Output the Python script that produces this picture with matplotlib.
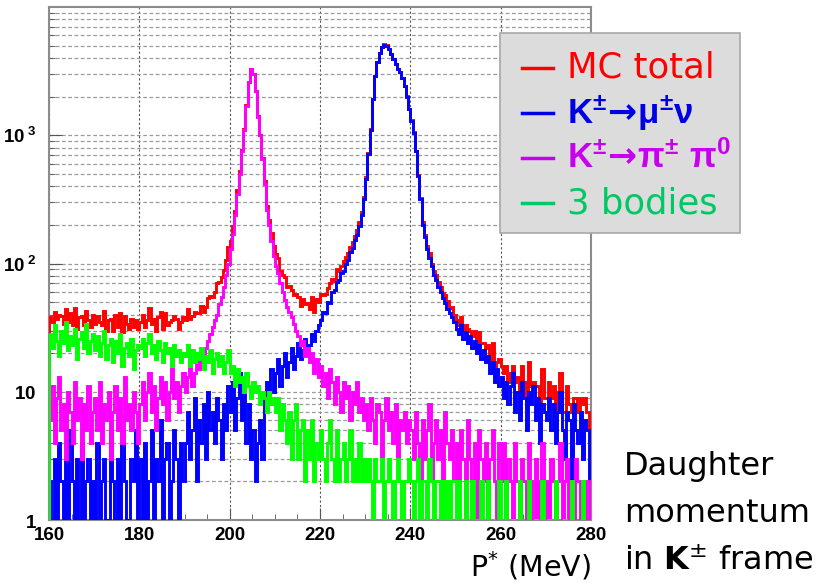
"""
Daughter momentum spectrum in the kaon rest frame (MC), log scale.
"""

import numpy as np
import matplotlib
matplotlib.use("Agg")
import matplotlib.pyplot as plt
from matplotlib.lines import Line2D
from matplotlib.patches import Rectangle
from matplotlib.ticker import MultipleLocator, LogLocator, NullFormatter

# Binning of P* (MeV)
P_MIN, P_MAX, BIN_WIDTH = 160, 280, 0.5

# Counts per 0.5 MeV bin, one row = 10 MeV
mc_total = [
    38, 35, 42, 37, 40, 39, 34, 44, 35, 41, 33, 45, 31, 38, 39, 33, 43, 36, 32, 40,
    34, 39, 35, 33, 43, 30, 36, 37, 30, 40, 32, 41, 29, 39, 34, 31, 37, 32, 36, 31,
    35, 40, 32, 36, 45, 34, 37, 30, 38, 42, 31, 41, 33, 35, 36, 39, 37, 31, 35, 38,
    36, 44, 37, 39, 42, 41, 41, 47, 42, 46, 54, 56, 55, 60, 71, 72, 79, 89, 106, 134,
    150, 196, 256, 375, 525, 770, 1120, 1720, 2620, 3310, 3020, 2212, 1415, 1012, 665, 438, 279, 219, 174, 137,
    118, 110, 88, 82, 79, 65, 67, 62, 57, 58, 55, 47, 53, 48, 49, 44, 55, 42, 53, 50,
    58, 57, 58, 64, 71, 76, 73, 91, 87, 96, 105, 112, 121, 134, 146, 164, 183, 209, 250, 330,
    470, 730, 1110, 1910, 2910, 3710, 4410, 4910, 5110, 5010, 4710, 4310, 3910, 3610, 3310, 3110, 2810, 2410, 2010, 1610,
    1307, 1053, 759, 487, 323, 209, 166, 136, 121, 100, 87, 82, 72, 66, 59, 57, 51, 45, 46, 40,
    36, 33, 38, 31, 33, 31, 30, 27, 30, 23, 29, 24, 24, 22, 23, 18, 24, 15, 17, 18,
    16, 14, 16, 12, 14, 16, 12, 13, 10, 16, 12, 8, 17, 11, 12, 11, 11, 7, 15, 9,
    9, 12, 9, 11, 7, 10, 14, 7, 7, 11, 8, 7, 9, 9, 7, 9, 8, 9, 7, 5,
]

k_mu_nu = [
    2, 0, 3, 1, 4, 2, 0, 3, 1, 5, 2, 0, 3, 1, 4, 0, 2, 3, 0, 2,
    1, 4, 0, 2, 3, 1, 0, 5, 2, 1, 3, 0, 4, 2, 0, 1, 3, 2, 5, 1,
    3, 1, 4, 0, 2, 5, 1, 3, 2, 6, 0, 3, 4, 1, 2, 5, 3, 0, 4, 2,
    4, 7, 3, 5, 9, 2, 6, 4, 8, 3, 10, 5, 7, 4, 9, 6, 3, 8, 5, 11,
    7, 12, 5, 9, 14, 6, 10, 4, 8, 3, 5, 2, 4, 6, 3, 9, 12, 8, 15, 10,
    14, 18, 11, 16, 20, 13, 17, 22, 15, 19, 24, 18, 21, 26, 20, 23, 28, 25, 30, 33,
    36, 42, 41, 50, 49, 60, 62, 72, 74, 85, 88, 100, 106, 122, 133, 152, 168, 197, 238, 320,
    460, 720, 1100, 1900, 2900, 3700, 4400, 4900, 5100, 5000, 4700, 4300, 3900, 3600, 3300, 3100, 2800, 2400, 2000, 1600,
    1300, 1050, 750, 480, 320, 200, 160, 130, 110, 95, 82, 74, 66, 60, 54, 49, 44, 41, 38, 35,
    31, 28, 33, 26, 29, 24, 27, 22, 25, 20, 23, 18, 21, 17, 19, 14, 17, 12, 15, 11,
    13, 9, 12, 8, 11, 14, 7, 10, 6, 12, 9, 5, 10, 8, 11, 6, 9, 4, 8, 7,
    6, 9, 5, 8, 4, 7, 10, 5, 3, 7, 6, 2, 8, 5, 4, 7, 3, 6, 5, 2,
]

k_pi_pi0 = [
    6, 11, 4, 9, 13, 5, 8, 3, 10, 7, 4, 12, 6, 9, 3, 8, 5, 11, 4, 7,
    9, 5, 12, 4, 8, 6, 10, 3, 7, 11, 5, 9, 4, 13, 6, 8, 5, 10, 7, 4,
    8, 12, 6, 10, 14, 7, 11, 5, 9, 13, 8, 12, 6, 10, 15, 9, 12, 7, 11, 14,
    10, 13, 16, 11, 14, 18, 15, 20, 17, 22, 25, 28, 32, 36, 40, 48, 55, 65, 82, 100,
    130, 170, 240, 350, 500, 750, 1100, 1700, 2600, 3300, 3000, 2200, 1400, 1000, 650, 420, 260, 200, 150, 115,
    95, 85, 70, 60, 52, 46, 42, 38, 34, 30, 27, 23, 25, 19, 22, 17, 20, 14, 18, 13,
    16, 11, 14, 9, 15, 12, 8, 13, 10, 7, 12, 9, 11, 6, 10, 8, 12, 7, 9, 6,
    8, 5, 9, 6, 4, 8, 7, 3, 6, 9, 5, 7, 4, 8, 3, 6, 5, 7, 4, 6,
    5, 3, 7, 4, 2, 6, 3, 5, 8, 2, 4, 6, 3, 5, 2, 7, 4, 3, 5, 2,
    4, 2, 5, 3, 1, 6, 3, 2, 4, 1, 5, 3, 2, 4, 1, 3, 5, 2, 1, 4,
    2, 4, 1, 3, 2, 0, 4, 2, 1, 3, 2, 1, 4, 2, 0, 3, 1, 2, 4, 1,
    2, 1, 3, 2, 0, 2, 4, 1, 2, 3, 1, 2, 0, 3, 2, 1, 2, 2, 1, 2,
]

three_body = [
    28, 22, 33, 25, 19, 30, 24, 35, 21, 27, 23, 31, 18, 26, 29, 22, 34, 20, 25, 28,
    21, 27, 19, 24, 30, 18, 23, 26, 17, 25, 20, 28, 16, 22, 24, 19, 26, 15, 21, 23,
    22, 26, 19, 24, 28, 20, 23, 18, 25, 21, 17, 24, 20, 22, 16, 23, 19, 21, 17, 20,
    19, 23, 16, 21, 17, 20, 18, 22, 15, 19, 17, 21, 14, 18, 20, 16, 19, 14, 17, 21,
    14, 16, 11, 15, 12, 13, 10, 14, 11, 9, 12, 10, 11, 8, 10, 9, 7, 10, 8, 9,
    7, 9, 5, 8, 6, 4, 7, 3, 6, 8, 3, 5, 6, 2, 5, 3, 6, 2, 4, 3,
    5, 3, 2, 4, 6, 3, 2, 5, 2, 3, 4, 2, 3, 5, 2, 3, 2, 4, 2, 3,
    2, 3, 2, 0, 3, 2, 2, 3, 0, 2, 3, 2, 0, 2, 3, 2, 0, 2, 2, 3,
    2, 0, 2, 3, 0, 2, 2, 0, 3, 2, 0, 2, 2, 0, 2, 1, 2, 0, 2, 2,
    0, 2, 0, 1, 2, 0, 0, 2, 0, 1, 0, 2, 0, 0, 2, 0, 1, 0, 0, 2,
    0, 0, 2, 0, 0, 1, 0, 0, 2, 0, 0, 0, 2, 0, 0, 1, 0, 0, 2, 0,
    0, 1, 0, 0, 2, 0, 0, 0, 1, 0, 0, 2, 0, 0, 0, 0, 2, 0, 0, 0,
]

X_TICKS = [160, 180, 200, 220, 240, 260, 280]
Y_TICKS = [1, 10, 100, 1000]
Y_TICK_LABELS = [r"$\mathbf{1}$", r"$\mathbf{10}$",
                 r"$\mathbf{10^{\ 2}}$", r"$\mathbf{10^{\ 3}}$"]

# arrow taken from the 'rm' math font (DejaVu Sans Bold), letters from 'bf'
LEGEND_LABELS = [
    "MC total",
    r"$\mathbf{K^{\pm}}\!\mathrm{\rightarrow}\!\mathbf{\mu^{\pm}\nu}$",
    r"$\mathbf{K^{\pm}}\!\mathrm{\rightarrow}\!\mathbf{\pi^{\pm}\ \pi^{0}}$",
    "3 bodies",
]
LEGEND_COLORS = ["#ff0000", "#0000e6", "#c800f0", "#00c864"]

W, H = 820, 584


def fig_xy(x, y):
    """Pixel position (top-left origin) to figure fraction."""
    return x / W, 1 - y / H


def main():
    plt.rcParams["mathtext.fontset"] = "dejavusans"
    # 'custom' math font: Arial-like bold, used for tick labels and legend
    plt.rcParams["mathtext.rm"] = "DejaVu Sans:bold"
    plt.rcParams["mathtext.bf"] = "Liberation Sans:bold"
    plt.rcParams["mathtext.it"] = "Liberation Sans:bold"
    plt.rcParams["mathtext.sf"] = "Liberation Sans:bold"

    fig = plt.figure(figsize=(W / 100, H / 100), dpi=100)
    ax = fig.add_axes([49 / W, 1 - 520 / H, 542 / W, 513 / H])

    edges = np.arange(P_MIN, P_MAX + BIN_WIDTH / 2, BIN_WIDTH)
    series = [
        (mc_total, "#ff0000"),
        (k_mu_nu, "#0000ff"),
        (k_pi_pi0, "#ff00ff"),
        (three_body, "#00ff00"),
    ]
    for counts, color in series:
        c = np.asarray(counts, dtype=float)
        assert len(c) == len(edges) - 1
        c[c <= 0] = 1e-2  # empty bins drop below the axis
        ax.stairs(c, edges, baseline=1e-2, color=color, lw=2.1, zorder=3)

    ax.set_yscale("log")
    ax.set_xlim(P_MIN, P_MAX)
    ax.set_ylim(1, 1e4)

    # ROOT-like grid
    ax.set_axisbelow(True)
    ax.yaxis.set_minor_locator(LogLocator(base=10, subs=np.arange(2, 10)))
    ax.yaxis.set_minor_formatter(NullFormatter())
    ax.grid(True, which="both", axis="y", ls=(0, (3, 2)), color="#9a9a9a", lw=0.9)
    ax.grid(True, which="major", axis="x", ls=(0, (2, 2)), color="#555555", lw=0.8)

    ax.set_xticks(X_TICKS)
    ax.xaxis.set_minor_locator(MultipleLocator(5))
    ax.set_yticks(Y_TICKS)
    ax.set_yticklabels(Y_TICK_LABELS)
    ax.tick_params(axis="both", which="major", direction="in", length=9,
                   color="#555555", labelsize=13.5, pad=5)
    ax.tick_params(axis="both", which="minor", direction="in", length=4,
                   color="#555555")
    ax.tick_params(axis="y", which="major", pad=9)
    for lab in ax.get_xticklabels():
        lab.set_fontfamily("Liberation Sans")
        lab.set_fontweight("bold")
    for lab in ax.get_yticklabels():
        lab.set_math_fontfamily("custom")
    for sp in ax.spines.values():
        sp.set_color("#8c8c8c")
        sp.set_linewidth(1.5)

    # Legend box
    x0, y0 = fig_xy(500, 233)
    fig.add_artist(Rectangle((x0, y0), 240 / W, 200 / H, transform=fig.transFigure,
                             facecolor="#dcdcdc", edgecolor="#a8a8a8", lw=1.2, zorder=5))
    rows_y = [68, 113, 158, 203]
    for label, color, ry in zip(LEGEND_LABELS, LEGEND_COLORS, rows_y):
        lx0, ly = fig_xy(522, ry)
        lx1, _ = fig_xy(553, ry)
        fig.add_artist(Line2D([lx0, lx1], [ly, ly], transform=fig.transFigure,
                              color=color, lw=2.5, zorder=6))
        tx, ty = fig_xy(567, ry)
        t = fig.text(tx, ty, label, color=color, fontsize=25.5, ha="left", va="center",
                     fontfamily="DejaVu Sans", zorder=7)
        if label.startswith("$"):
            t.set_math_fontfamily("custom")
            t.set_fontsize(25)

    # Axis title and side caption
    px, py = fig_xy(470, 577)
    fig.text(px, py, r"P$^{*}$ (MeV)", fontsize=20.5, ha="left", va="baseline",
             fontfamily="DejaVu Sans")
    for text, base in [("Daughter", 475), ("momentum", 522),
                       (r"in $\mathbf{K}^{\pm}$ frame", 570)]:
        cx, cy = fig_xy(624, base)
        fig.text(cx, cy, text, fontsize=23, ha="left", va="baseline",
                 fontfamily="DejaVu Sans")

    fig.savefig("out.png", dpi=100)
    plt.close(fig)


if __name__ == "__main__":
    main()
